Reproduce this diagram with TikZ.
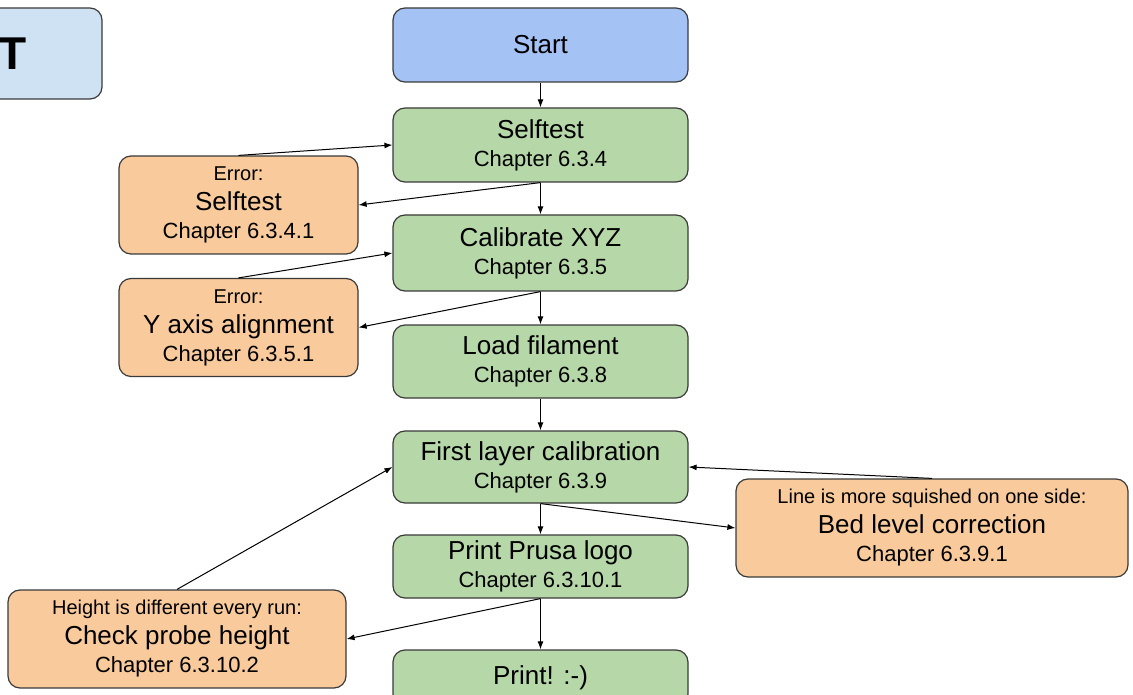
\documentclass[tikz,border=0pt]{standalone}
\usepackage{fontspec}
\setmainfont{Liberation Sans}
\usepackage{tikz}
\usetikzlibrary{arrows.meta}

\definecolor{startblue}{HTML}{A4C2F4}
\definecolor{titleblue}{HTML}{CFE2F3}
\definecolor{stepgreen}{HTML}{B6D7A8}
\definecolor{errorange}{HTML}{F9CB9C}
\definecolor{edgegray}{HTML}{3A3A3A}

\newcommand{\mainline}[1]{{\fontsize{26}{28}\selectfont #1}}
\newcommand{\chapline}[1]{{\fontsize{22}{28}\selectfont #1}}
\newcommand{\noteline}[1]{{\fontsize{20}{28}\selectfont #1}}

\begin{document}
\begin{tikzpicture}[x=1pt,y=-1pt,
        box/.style={draw=edgegray, line width=1.2pt, rounded corners=12pt,
            inner sep=0pt, align=center, font=\fontsize{22}{28}\selectfont},
        stepbox/.style={box, fill=stepgreen, minimum width=295pt, minimum height=74pt},
        errbox/.style={box, fill=errorange, minimum height=98pt},
        arr/.style={-{Latex[length=8pt,width=6pt]}, line width=1pt}]
    \useasboundingbox (0,0) rectangle (1133,695);
    % 标题
    \node[box, fill=titleblue, minimum width=240pt, minimum height=91pt] (title) at (-18,53.5) {};
    \node[inner sep=0pt, font=\fontsize{46}{50}\selectfont\bfseries] (titletext) at (13,54) {T};
    % 主流程
    \node[stepbox, fill=startblue] (start) at (540.5,45) {\mainline{Start}};
    \node[stepbox] (selftest) at (540.5,145) {\mainline{Selftest}\\\chapline{Chapter 6.3.4}};
    \node[stepbox, minimum height=76pt] (calib) at (540.5,253) {\mainline{Calibrate XYZ}\\\chapline{Chapter 6.3.5}};
    \node[stepbox, minimum height=73pt] (load) at (540.5,361.5) {\mainline{Load filament}\\\chapline{Chapter 6.3.8}};
    \node[stepbox, minimum height=72pt] (firstlayer) at (540.5,467) {\mainline{First layer calibration}\\\chapline{Chapter 6.3.9}};
    \node[stepbox, minimum height=63pt] (logo) at (540.5,566.5) {\mainline{Print Prusa logo}\\\chapline{Chapter 6.3.10.1}};
    \node[stepbox, minimum height=56pt] (print) at (540.5,678) {\mainline{Print! :-)}};
    % 错误处理
    \node[errbox, minimum width=239pt] (errself) at (238.5,205) {\noteline{Error:}\\[2pt]\mainline{Selftest}\\\chapline{Chapter 6.3.4.1}};
    \node[errbox, minimum width=239pt] (erry) at (238.5,327.5) {\noteline{Error:}\\[2pt]\mainline{Y axis alignment}\\\chapline{Chapter 6.3.5.1}};
    \node[errbox, minimum width=392pt] (bedlevel) at (932,528) {\noteline{Line is more squished on one side:}\\[2pt]\mainline{Bed level correction}\\\chapline{Chapter 6.3.9.1}};
    \node[errbox, minimum width=338pt] (probe) at (177,639) {\noteline{Height is different every run:}\\[2pt]\mainline{Check probe height}\\\chapline{Chapter 6.3.10.2}};
    % 箭头
    \draw[arr] (start) -- (selftest);
    \draw[arr] (selftest) -- (calib);
    \draw[arr] (calib) -- (load);
    \draw[arr] (load) -- (firstlayer);
    \draw[arr] (firstlayer) -- (logo);
    \draw[arr] (logo) -- (print);
    \draw[arr] (errself.north) -- (selftest.west);
    \draw[arr] (selftest.south) -- (errself.east);
    \draw[arr] (erry.north) -- (calib.west);
    \draw[arr] (calib.south) -- (erry.east);
    \draw[arr] (probe.north) -- (firstlayer.west);
    \draw[arr] (firstlayer.south) -- (bedlevel.west);
    \draw[arr] (bedlevel.north) -- (firstlayer.east);
    \draw[arr] (logo.south) -- (probe.east);
\end{tikzpicture}
\end{document}
